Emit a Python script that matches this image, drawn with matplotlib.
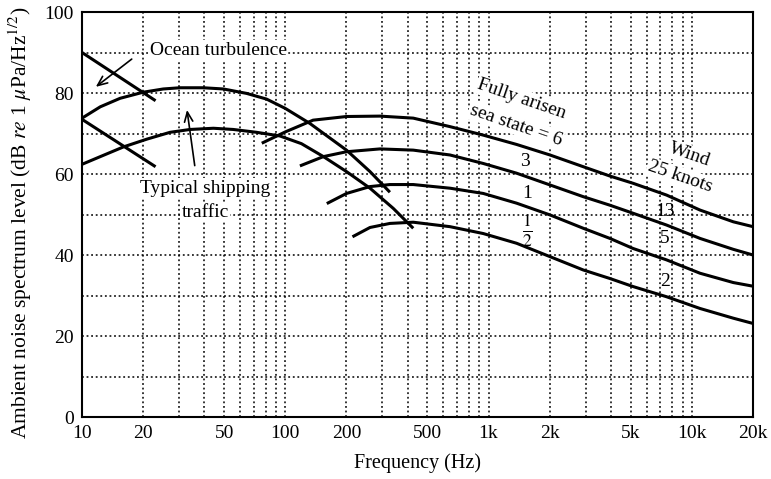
import matplotlib
matplotlib.use("Agg")
import matplotlib.pyplot as plt
from matplotlib.ticker import FixedLocator, NullFormatter, LogLocator

plt.rcParams['font.family'] = ['Liberation Serif', 'DejaVu Serif']
plt.rcParams['mathtext.fontset'] = 'stix'

# Ocean turbulence (straight on log-frequency axis)
turb_hi_f = [10, 23]
turb_hi_L = [90.0, 78.1]
turb_lo_f = [10, 23]
turb_lo_L = [73.5, 61.8]

# Typical shipping traffic
ship_hi_f = [10, 12.3, 15.4, 20, 25.1, 30.3, 39.5, 49.6, 64.6, 80.9, 100, 132, 200, 261, 327]
ship_hi_L = [73.8, 76.6, 78.7, 80.2, 81.0, 81.3, 81.3, 81.0, 79.9, 78.5, 76.2, 72.5, 65.9, 60.6, 55.5]
ship_lo_f = [10, 12.3, 16, 20.8, 27.1, 34, 44.3, 55.5, 72.2, 94, 120, 154, 200, 261, 340, 426]
ship_lo_L = [62.4, 64.3, 66.7, 68.6, 70.3, 71.0, 71.3, 71.0, 70.3, 69.4, 67.5, 64.3, 60.6, 56.5, 51.5, 46.6]

# Fully arisen sea states (wind speed in knots)
ss6_f = [76.6, 100, 137, 200, 292, 426, 646, 942, 1374, 2005, 2925, 3953, 5148, 7510, 10970, 16000, 20000]
ss6_L = [67.6, 70.4, 73.3, 74.2, 74.3, 73.8, 71.7, 69.6, 67.3, 64.7, 61.8, 59.5, 57.7, 54.8, 51.1, 48.2, 47.0]
ss3_f = [118, 154, 200, 292, 426, 646, 942, 1374, 2005, 2925, 3953, 5148, 7510, 10970, 16000, 20000]
ss3_L = [62.0, 64.3, 65.5, 66.2, 65.9, 64.7, 62.6, 60.2, 57.3, 54.4, 52.3, 50.3, 47.4, 44.1, 41.4, 40.0]
ss1_f = [160, 200, 261, 327, 426, 646, 942, 1374, 2005, 2925, 3953, 5148, 7510, 10970, 16000, 20000]
ss1_L = [52.7, 55.2, 56.9, 57.4, 57.4, 56.5, 55.2, 52.8, 49.9, 46.6, 44.1, 41.6, 38.8, 35.5, 33.2, 32.3]
ssh_f = [214, 261, 327, 426, 646, 942, 1374, 2005, 2925, 3953, 5148, 7510, 10970, 16000, 20000]
ssh_L = [44.5, 46.8, 47.8, 48.1, 47.0, 45.3, 42.9, 39.6, 36.3, 34.2, 32.2, 29.7, 26.8, 24.4, 23.1]

x_ticks = [10, 20, 50, 100, 200, 500, 1000, 2000, 5000, 10000, 20000]
x_labels = ['10', '20', '50', '100', '200', '500', '1k', '2k', '5k', '10k', '20k']
y_ticks = [0, 20, 40, 60, 80, 100]

fig = plt.figure(figsize=(7.71, 4.79), dpi=100)
ax = fig.add_axes([0.1064, 0.1294, 0.8703, 0.8455])
ax.set_xscale('log')
ax.set_xlim(10, 20000)
ax.set_ylim(0, 100)

grid_style = dict(color='black', linestyle=(0, (1.2, 1.8)), linewidth=1.1)
ax.xaxis.set_minor_locator(LogLocator(base=10, subs=range(2, 10)))
ax.xaxis.set_minor_formatter(NullFormatter())
ax.yaxis.set_minor_locator(FixedLocator(range(10, 100, 20)))
ax.grid(True, which='both', **grid_style)
ax.set_axisbelow(True)

ax.set_xticks(x_ticks)
ax.set_xticklabels(x_labels)
ax.set_yticks(y_ticks)
ax.tick_params(which='both', length=0, labelsize=14, pad=6)
for s in ax.spines.values():
    s.set_linewidth(1.5)

lw = 2.2
for f, L in [(turb_hi_f, turb_hi_L), (turb_lo_f, turb_lo_L),
             (ship_hi_f, ship_hi_L), (ship_lo_f, ship_lo_L),
             (ss6_f, ss6_L), (ss3_f, ss3_L), (ss1_f, ss1_L), (ssh_f, ssh_L)]:
    ax.plot(f, L, color='black', linewidth=lw, solid_capstyle='butt',
            solid_joinstyle='round', zorder=3)

wbox = dict(facecolor='white', edgecolor='none', pad=1.0)
ax.text(46.7, 90.6, 'Ocean turbulence', fontsize=14, ha='center', va='center', bbox=wbox, zorder=2)
ax.text(40.3, 56.5, 'Typical shipping', fontsize=14, ha='center', va='center', bbox=wbox, zorder=2)
ax.text(40.3, 50.6, 'traffic', fontsize=14, ha='center', va='center', bbox=wbox, zorder=2)

arrow = dict(arrowstyle='->,head_length=0.7,head_width=0.3', color='black', lw=1.2)
ax.annotate('', xy=(11.4, 81.1), xytext=(18.0, 88.8), arrowprops=arrow, zorder=4)
ax.annotate('', xy=(32.7, 76.5), xytext=(36.0, 61.4), arrowprops=arrow, zorder=4)

ax.text(1456, 78.5, 'Fully arisen', fontsize=14, rotation=-19, ha='center', va='center', bbox=wbox, zorder=2)
ax.text(1361, 72.1, 'sea state = 6', fontsize=14, rotation=-19, ha='center', va='center', bbox=wbox, zorder=2)
ax.text(1510, 63.0, '3', fontsize=14, ha='center', va='center', zorder=2)
ax.text(1547, 55.2, '1', fontsize=14, ha='center', va='center', zorder=2)
ax.text(1547, 46.0, r'$\frac{1}{2}$', fontsize=18, ha='center', va='center', zorder=2)

ax.text(9790, 64.7, 'Wind', fontsize=14, rotation=-19, ha='center', va='center', bbox=wbox, zorder=2)
ax.text(8750, 59.3, '25 knots', fontsize=14, rotation=-19, ha='center', va='center', bbox=wbox, zorder=2)
ax.text(7380, 50.7, '13', fontsize=14, ha='center', va='center', zorder=2)
ax.text(7380, 44.1, '5', fontsize=14, ha='center', va='center', zorder=2)
ax.text(7380, 33.4, '2', fontsize=14, ha='center', va='center', zorder=2)

ax.set_xlabel('Frequency (Hz)', fontsize=14.5, labelpad=8)
ax.set_ylabel(r'Ambient noise spectrum level (dB $\it{re}$ 1 $\mu$Pa/Hz$^{1/2}$)', fontsize=15.5)
ax.yaxis.set_label_coords(-0.072, 0.48)

fig.savefig('out.png', dpi=100)
